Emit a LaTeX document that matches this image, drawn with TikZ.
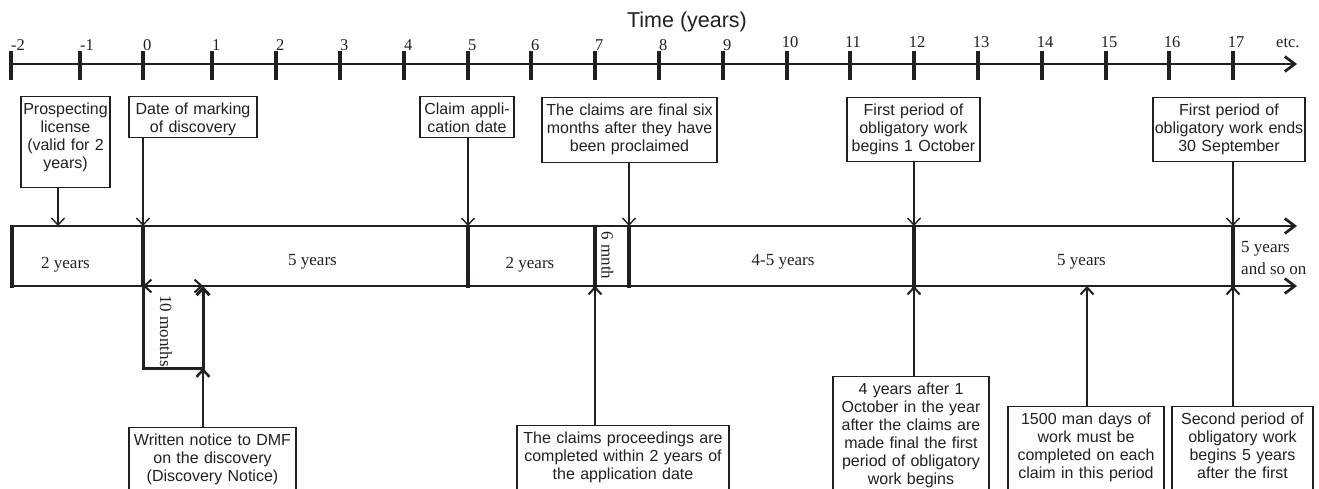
\documentclass[tikz,border=0pt]{standalone}
\usepackage{fontspec}
\setmainfont{Liberation Serif}
\newfontfamily\boxfont{Liberation Sans}
\usetikzlibrary{arrows.meta}
\definecolor{ink}{HTML}{231F20}
\begin{document}
\begin{tikzpicture}[x=1pt,y=-1pt,
  box/.style={draw=ink,line width=1.1pt,font={\boxfont\fontsize{16}{18}\selectfont},
    align=center,inner xsep=0pt,inner ysep=6pt,text height=12pt,anchor=north,text=ink},
  num/.style={font={\fontsize{16.5}{18}\selectfont},inner sep=0pt,text=ink},
  seg/.style={font={\fontsize{17}{22}\selectfont},inner sep=0pt,text=ink},
  axisline/.style={draw=ink,line width=2.7pt,-{Straight Barb[length=10pt,width=15pt]}},
  tickmark/.style={draw=ink,line width=3.5pt},
  vbar/.style={draw=ink,line width=3.5pt},
  downconn/.style={draw=ink,line width=1.4pt,-{Straight Barb[length=7pt,width=13pt]}},
  upconn/.style={draw=ink,line width=2pt,-{Straight Barb[length=7pt,width=13pt]}},
]
\useasboundingbox (0,0) rectangle (1319,488);
\clip (0,0) rectangle (1319,488);

% title
\node[font={\boxfont\fontsize{21.5}{24}\selectfont},inner sep=0pt,anchor=base,text=ink] (title) at (687,27) {Time (years)};

% top axis
\draw[axisline] (11,64) -- (1297,64);
\foreach \v/\x [count=\i] in {-2/11,-1/80,0/143,1/212,2/276,3/340,4/404,5/468,6/531,7/595,8/659,9/723} {
  \draw[tickmark] (\x,51) -- (\x,80);
  \node[num,anchor=base west] (lab\i) at (\x,50) {\v};
}
\foreach \v/\x [count=\i] in {10/787,11/850,12/914,13/978,14/1042,15/1106,16/1169,17/1233} {
  \draw[tickmark] (\x,51) -- (\x,80);
  \node[num,anchor=base] (labb\i) at (\x+3,47) {\v};
}
\node[num,anchor=base west] (etc) at (1276,47) {etc.};

% band
\draw[axisline] (11,226) -- (1297,226);
\draw[axisline] (11,286) -- (1297,286);
\foreach \x in {12,468,595,629,914,1233} {
  \draw[vbar] (\x,224.5) -- (\x,287.5);
}
\draw[vbar] (143,224.5) -- (143,286);

% band labels
\node[seg,anchor=base] (s1) at (65.5,268) {2 years};
\node[seg,anchor=base] (s2) at (312.5,265) {5 years};
\node[seg,anchor=base] (s3) at (530,268) {2 years};
\node[seg,rotate=-90] (s4) at (607.5,255.5) {6 mnth};
\node[seg,anchor=base] (s5) at (783,265) {4-5 years};
\node[seg,anchor=base] (s6) at (1081.5,265) {5 years};
\node[seg,anchor=base west,align=left] (s7) at (1241,274) {5 years\\and so on};

% 10 months bracket
\coordinate (m0) at (143,286);
\coordinate (m1) at (203,286);
\coordinate (m2) at (203,368);
\draw[draw=ink,line width=3pt,line join=miter,-{Straight Barb[length=7pt,width=13pt]}]
  (m0) -- (143,368) -- (m2) -- (m1);
\draw[draw=ink,line width=2pt,{Straight Barb[length=7pt,width=13pt]}-{Straight Barb[length=7pt,width=13pt]}]
  (m0) -- (m1);
\node[seg,rotate=-90] (tm) at (166,331) {10 months};

% top boxes
\node[box,text width=89pt,text depth=67pt] (T1) at (65.5,96) {Prospecting\\license\\(valid for 2\\years)};
\node[box,text width=128pt,text depth=17pt] (T2) at (193,96) {Date of marking\\of discovery};
\node[box,text width=94pt,text depth=17pt] (T3) at (467,96) {Claim appli-\\cation date};
\node[box,text width=175pt,text depth=41pt] (T4) at (629.5,97) {The claims are final six\\months after they have\\been proclaimed};
\node[box,text width=133pt,text depth=40pt] (T5) at (913.5,97) {First period of\\obligatory work\\begins 1 October};
\node[box,text width=152pt,text depth=40pt] (T6) at (1229,97) {First period of\\obligatory work ends\\30 September};

\coordinate (a1) at (58,226);
\coordinate (a2) at (143,226);
\coordinate (a3) at (468,226);
\coordinate (a4) at (629,226);
\coordinate (a5) at (914,226);
\coordinate (a6) at (1233,226);
\draw[downconn] (T1.south -| a1) -- (a1);
\draw[downconn] (T2.south -| a2) -- (a2);
\draw[downconn] (T3.south -| a3) -- (a3);
\draw[downconn] (T4.south -| a4) -- (a4);
\draw[downconn] (T5.south -| a5) -- (a5);
\draw[downconn] (T6.south -| a6) -- (a6);

% bottom boxes
\node[box,text width=167pt,text depth=49pt] (B1) at (212.5,427) {Written notice to DMF\\on the discovery\\(Discovery Notice)};
\node[box,text width=212pt,text depth=51pt] (B2) at (623,425) {The claims proceedings are\\completed within 2 years of\\the application date};
\node[box,text width=156pt,text depth=100pt] (B3) at (911,376) {4 years after 1\\October in the year\\after the claims are\\made final the first\\period of obligatory\\work begins};
\node[box,text width=156pt,text depth=70pt] (B4) at (1086,406) {1500 man days of\\work must be\\completed on each\\claim in this period};
\node[box,text width=141pt,text depth=70pt] (B5) at (1242.5,406) {Second period of\\obligatory work\\begins 5 years\\after the first};

\coordinate (b2) at (595,286);
\coordinate (b3) at (914,286);
\coordinate (b4) at (1087,286);
\coordinate (b5) at (1233,286);
\draw[upconn,line width=2.5pt] (B1.north -| m2) -- (m2);
\draw[upconn] (B2.north -| b2) -- (b2);
\draw[upconn] (B3.north -| b3) -- (b3);
\draw[upconn] (B4.north -| b4) -- (b4);
\draw[upconn] (B5.north -| b5) -- (b5);
\end{tikzpicture}
\end{document}
